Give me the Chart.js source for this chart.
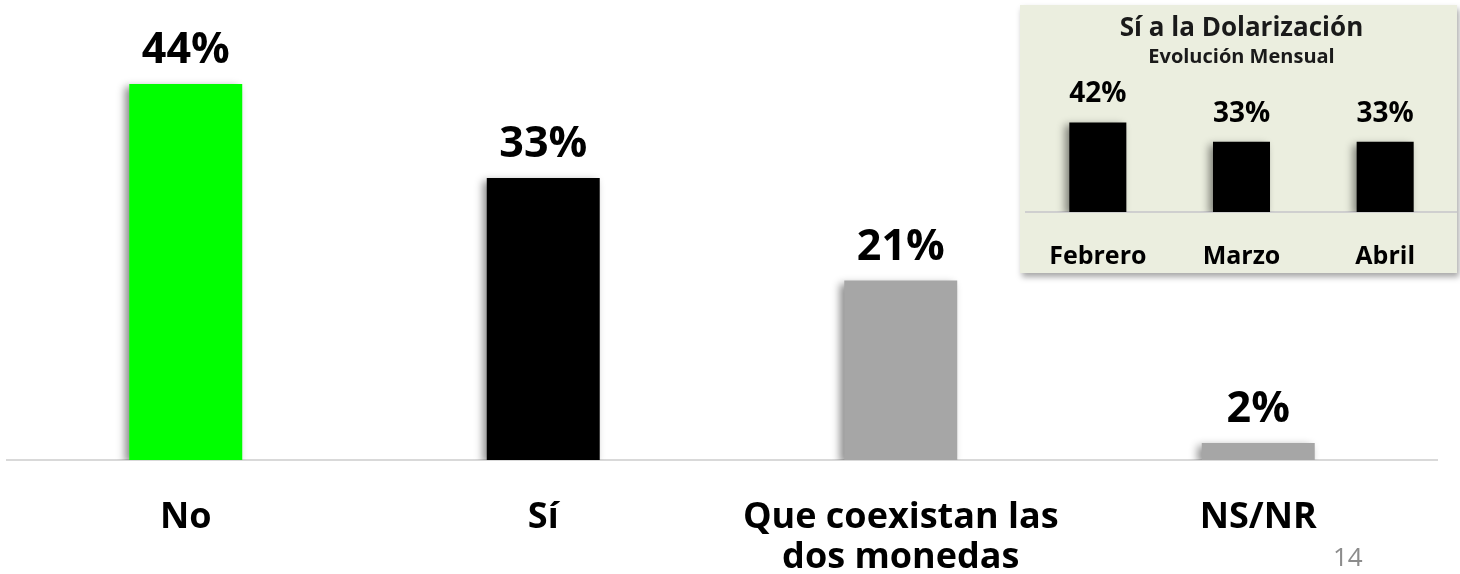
<!DOCTYPE html>
<html>
<head>
<meta charset="utf-8">
<script src="https://cdn.jsdelivr.net/npm/chart.js@4"></script>
<style>
  body { margin: 0; background: #fff; }
  #main { position: absolute; left: 0; top: 0; width: 1460px; height: 574px; }
  #inset {
    position: absolute; left: 1020px; top: 5px; width: 437px; height: 268px;
    background: #ebeedf;
    box-shadow: 2px 4px 6px rgba(0, 0, 0, 0.35);
  }
  #page {
    position: absolute; left: 1333px; top: 538px;
    font: 26px 'Open Sans', sans-serif; color: #8c8c8c; line-height: 36px;
  }
</style>
</head>
<body>
<div id="main"><canvas id="mainChart"></canvas></div>
<div id="inset"><canvas id="insetChart"></canvas></div>
<div id="page">14</div>
<script>
// main chart data
const categories = ['No', 'Sí', ['Que coexistan las', 'dos monedas'], 'NS/NR'];
const values = [44, 33, 21, 2];
const barColors = ['#00ff00', '#000000', '#a6a6a6', '#a6a6a6'];

// inset: monthly evolution of "Sí"
const months = ['Febrero', 'Marzo', 'Abril'];
const monthValues = [42, 33, 33];

const FONT = "'Open Sans', sans-serif";

// soft shadow on the bars, like the slide
const barShadow = {
  id: 'barShadow',
  beforeDatasetsDraw(chart) {
    const ctx = chart.ctx;
    ctx.save();
    ctx.shadowColor = 'rgba(0,0,0,0.45)';
    ctx.shadowBlur = 8;
    ctx.shadowOffsetX = -4;
    ctx.shadowOffsetY = 3;
  },
  afterDatasetsDraw(chart) {
    chart.ctx.restore();
  }
};

// value + % above each bar
const valueLabels = {
  id: 'valueLabels',
  afterDatasetsDraw(chart, args, opts) {
    const ctx = chart.ctx;
    const meta = chart.getDatasetMeta(0);
    const data = chart.data.datasets[0].data;
    ctx.save();
    ctx.font = 'bold ' + opts.size + 'px ' + FONT;
    ctx.fillStyle = '#000';
    ctx.textAlign = 'center';
    ctx.textBaseline = 'alphabetic';
    meta.data.forEach((bar, i) => {
      ctx.fillText(data[i] + '%', bar.x, bar.y - opts.gap);
    });
    ctx.restore();
  }
};

Chart.defaults.font.family = FONT;
Chart.defaults.color = '#000';

new Chart(document.getElementById('mainChart'), {
  type: 'bar',
  data: {
    labels: categories,
    datasets: [{
      data: values,
      backgroundColor: barColors,
      barPercentage: 0.316,
      categoryPercentage: 1
    }]
  },
  options: {
    responsive: true,
    maintainAspectRatio: false,
    animation: false,
    layout: { padding: { left: 7, right: 23, top: 0, bottom: 0 } },
    plugins: {
      legend: { display: false },
      tooltip: { enabled: false },
      valueLabels: { size: 43, gap: 21 }
    },
    scales: {
      x: {
        grid: { display: false },
        border: { display: true, color: '#d9d9d9', width: 2 },
        ticks: { padding: 30, font: { size: 36, weight: 'bold', lineHeight: 1.11 }, color: '#000' },
        afterFit(scale) { scale.height = 114; }
      },
      y: { display: false, min: 0, max: 53.83 }
    }
  },
  plugins: [barShadow, valueLabels]
});

new Chart(document.getElementById('insetChart'), {
  type: 'bar',
  data: {
    labels: months,
    datasets: [{
      data: monthValues,
      backgroundColor: '#000000',
      barPercentage: 0.397,
      categoryPercentage: 1
    }]
  },
  options: {
    responsive: true,
    maintainAspectRatio: false,
    animation: false,
    layout: { padding: { left: 6, right: 0, top: 0, bottom: 0 } },
    plugins: {
      legend: { display: false },
      tooltip: { enabled: false },
      title: {
        display: true,
        text: 'Sí a la Dolarización',
        color: '#1a1a1a',
        font: { size: 26, weight: 'bold', lineHeight: 1.2 },
        padding: { top: 8, bottom: 0 }
      },
      subtitle: {
        display: true,
        text: 'Evolución Mensual',
        color: '#1a1a1a',
        font: { size: 20, weight: 'bold', lineHeight: 1.2 },
        padding: { top: 1, bottom: 0 }
      },
      valueLabels: { size: 28, gap: 20 }
    },
    scales: {
      x: {
        grid: { display: false },
        border: { display: true, color: '#cfcfcf', width: 2 },
        ticks: { padding: 22, font: { size: 25, weight: 'bold', lineHeight: 1.2 }, color: '#000' },
        afterFit(scale) { scale.height = 61; }
      },
      y: { display: false, min: 0, max: 67.0 }
    }
  },
  plugins: [barShadow, valueLabels]
});
</script>
</body>
</html>
